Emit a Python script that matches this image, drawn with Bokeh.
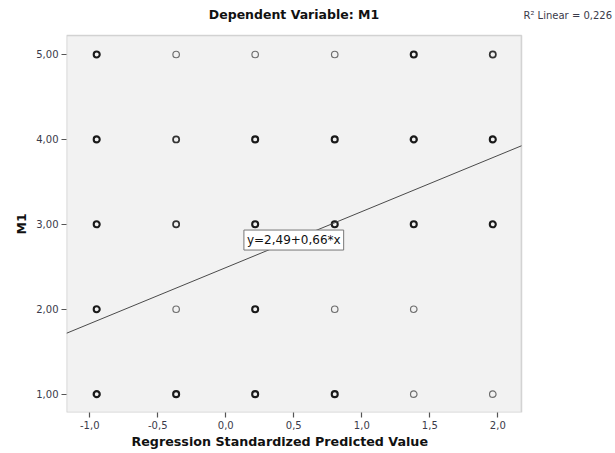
from bokeh.plotting import figure
from bokeh.models import (Range1d, FixedTicker, Label, ColumnDataSource,
                          BoxAnnotation, Title)
from bokeh.embed import file_html
from bokeh.resources import INLINE

# Data
pred_levels = [-0.949, -0.365, 0.216, 0.801, 1.382, 1.963]   # Regression Standardized Predicted Value
m1_levels = [5, 4, 3, 2, 1]                                  # M1 values (rows top to bottom)
# visual weight of each circle (number of overlapping cases), 0 = no case
overlap = [
    [3, 1, 1, 1, 3, 2],   # M1 = 5
    [3, 2, 3, 3, 4, 3],   # M1 = 4
    [3, 2, 3, 3, 3, 3],   # M1 = 3
    [3, 1, 3, 1, 1, 0],   # M1 = 2
    [4, 3, 3, 3, 1, 1],   # M1 = 1
]
fit_intercept = 2.49
fit_slope = 0.66
r_squared = "0,226"
equation_text = "y=2,49+0,66*x"

x_ticks = [-1.0, -0.5, 0.0, 0.5, 1.0, 1.5, 2.0]
x_tick_labels = ["-1,0", "-0,5", "0,0", "0,5", "1,0", "1,5", "2,0"]
y_ticks = [1, 2, 3, 4, 5]
y_tick_labels = ["1,00", "2,00", "3,00", "4,00", "5,00"]

# Layout / style
FONT = "DejaVu Sans"
X_LO, X_HI = -1.171, 2.174          # plot area (grey box) bounds
Y_LO, Y_HI = 0.784, 5.224
PX_X, PX_Y = 136.0, 85.0            # pixels per unit
RIGHT_PAD, TOP_PAD = 94, 35         # white margins above / right of the grey box

xs, ys, lws, cols, sizes = [], [], [], [], []
for r, yv in enumerate(m1_levels):
    for c, xv in enumerate(pred_levels):
        n = overlap[r][c]
        if n == 0:
            continue
        xs.append(xv)
        ys.append(yv)
        if n == 1:
            lws.append(1.2); cols.append("#6e6e6e"); sizes.append(6.5)
        elif n == 2:
            lws.append(1.7); cols.append("#333333"); sizes.append(6.2)
        else:
            lws.append(2.1 + 0.2 * (n - 3)); cols.append("#1a1a1a"); sizes.append(6.0)

src = ColumnDataSource(dict(x=xs, y=ys, lw=lws, col=cols, size=sizes))

p = figure(width=615, height=453, output_backend="svg", toolbar_location=None, title=None,
           x_range=Range1d(X_LO, X_HI + RIGHT_PAD / PX_X),
           y_range=Range1d(Y_LO, Y_HI + TOP_PAD / PX_Y),
           min_border_left=66, min_border_right=0, min_border_top=0, min_border_bottom=41)

p.background_fill_color = "white"
p.border_fill_color = "white"
p.outline_line_color = None
p.grid.visible = False

# grey plot area
p.add_layout(BoxAnnotation(left=X_LO, right=X_HI, bottom=Y_LO, top=Y_HI,
                           fill_color="#f2f2f2", fill_alpha=1.0,
                           line_color="#7a7a7a", line_width=1.6, level="underlay"))

p.xaxis.ticker = FixedTicker(ticks=x_ticks)
p.xaxis.major_label_overrides = {t: l for t, l in zip(x_ticks, x_tick_labels)}
p.yaxis.ticker = FixedTicker(ticks=y_ticks)
p.yaxis.major_label_overrides = {t: l for t, l in zip(y_ticks, y_tick_labels)}

for ax in (p.xaxis, p.yaxis):
    ax.axis_line_color = None
    ax.major_tick_line_color = "#555555"
    ax.major_tick_line_width = 1.2
    ax.major_tick_out = 5
    ax.major_tick_in = 0
    ax.minor_tick_line_color = None
    ax.major_label_text_font = FONT
    ax.major_label_text_font_size = "10px"
    ax.major_label_text_color = "#3a3a4a"
    ax.major_label_standoff = 3

# axis titles as panel titles so that they can be placed like the reference
p.add_layout(Title(text="Regression Standardized Predicted Value", align="left", offset=65,
                   text_font=FONT, text_font_size="12.7px", text_font_style="bold",
                   text_color="#111111", standoff=0), "below")
p.add_layout(Title(text="M1", align="left", offset=178,
                   text_font=FONT, text_font_size="12.5px", text_font_style="bold",
                   text_color="#111111", standoff=10), "left")

p.scatter("x", "y", source=src, marker="circle", size="size", fill_color=None,
          line_color="col", line_width="lw")

# regression line across the plot area
line_x = [X_LO, X_HI]
line_y = [fit_intercept + fit_slope * v for v in line_x]
p.line(line_x, line_y, line_color="#4a4a4a", line_width=1)

p.add_layout(Label(x=0.5, y=2.815, text=equation_text, text_align="center",
                   text_baseline="middle", text_font=FONT, text_font_size="12px",
                   text_color="#111111", background_fill_color="white",
                   border_line_color="#777777", border_line_width=1, padding=3))

p.add_layout(Label(x=(X_LO + X_HI) / 2, y=Y_HI + 21 / PX_Y, text="Dependent Variable: M1",
                   text_align="center", text_baseline="middle", text_font=FONT,
                   text_font_size="12.5px", text_font_style="bold", text_color="#111111"))

p.add_layout(Label(x=X_HI + 2 / PX_X, y=Y_HI + 20 / PX_Y, text="R² Linear = " + r_squared,
                   text_align="left", text_baseline="middle", text_font=FONT,
                   text_font_size="10px", text_color="#3a3a4a"))

open("out.html", "w").write(file_html(p, INLINE))
